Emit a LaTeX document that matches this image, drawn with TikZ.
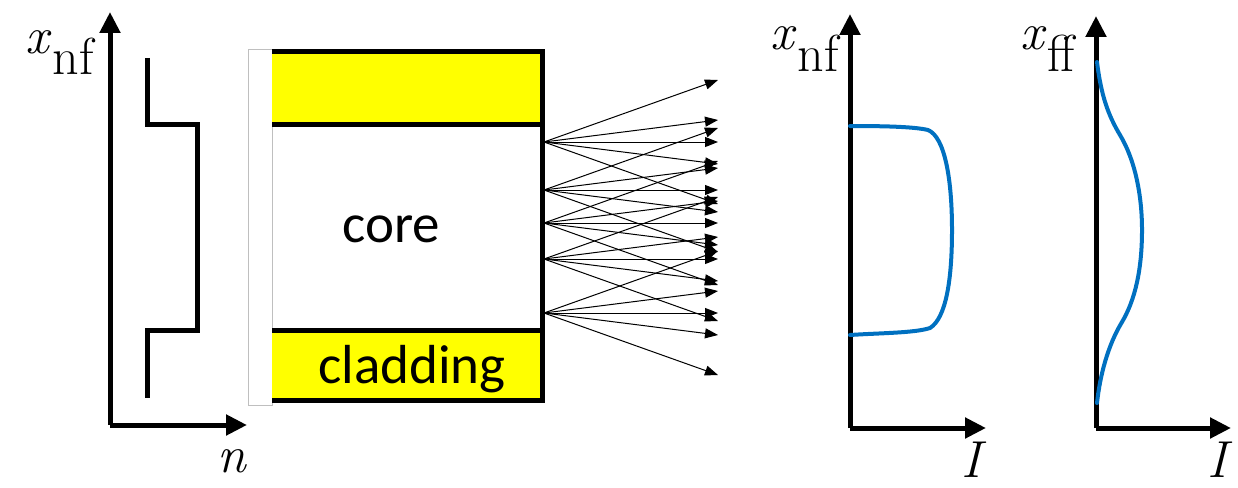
\documentclass[tikz,border=0pt]{standalone}
\usepackage{fontspec}
\newfontfamily\calib{Carlito}
\usetikzlibrary{arrows.meta}
\definecolor{cladyellow}{RGB}{255,255,0}
\definecolor{curveblue}{RGB}{0,112,192}
\definecolor{lightgraybd}{RGB}{191,191,191}
\newcommand{\axlbl}[2]{\textit{#1}\kern1pt\raisebox{-21pt}{#2}}
\begin{document}
\begin{tikzpicture}[x=1pt,y=-1pt,
  axis/.style={line width=5pt,-{Triangle[length=21pt,width=20pt]}},
  ray/.style={line width=1pt,-{Triangle[length=13pt,width=10pt]}},
  border/.style={line width=5pt},
  profile/.style={line width=5pt},
  bluecurve/.style={line width=4pt,color=curveblue,line cap=round},
  mathlbl/.style={inner sep=0pt,font=\fontsize{52}{52}\selectfont},
  txtlbl/.style={inner sep=0pt,font=\calib\fontsize{55}{55}\selectfont}]
\useasboundingbox (0,0) rectangle (1238,487);
% ---- left axes (refractive index)
\coordinate (o1) at (110,425);
\coordinate (t1y) at (110,12);
\coordinate (t1x) at (247,425);
\draw[axis] (o1) -- (t1y);
\draw[axis] (o1) -- (t1x);
\node[mathlbl,anchor=base east] (lx1) at (94,53) {\axlbl{x}{nf}};
\node[mathlbl,anchor=base] (ln) at (232,472) {\textit{n}};
% step profile
\draw[profile] (147,58) -- (147,124) -- (197,124) -- (197,330) -- (147,330) -- (147,398);
% ---- fibre
\draw[lightgraybd,line width=1pt,fill=white] (248,50) rectangle (272,405);
\fill[cladyellow] (272,52) rectangle (542,124);
\fill[cladyellow] (272,330) rectangle (542,400);
\draw[border] (272,52) -- (542,52);
\draw[border] (272,124) -- (542,124);
\draw[border] (272,330) -- (542,330);
\draw[border] (272,400) -- (542,400);
\draw[border] (542,49.5) -- (542,402.5);
\node[txtlbl] (core) at (391,229) {core};
\node[txtlbl,anchor=base] (clad) at (412,383) {cladding};
% ---- rays
\foreach \i/\y in {1/142,2/190,3/223,4/259,5/313}{
  \coordinate (s\i) at (544,\y);
  \foreach \j/\d in {1/-62,2/-22,3/0,4/22,5/62}{
    \coordinate (e\i\j) at (718,\y+\d);
    \draw[ray] (s\i) -- (e\i\j);
  }
}
% ---- near-field intensity
\coordinate (o2) at (850,428);
\coordinate (t2y) at (850,14);
\coordinate (t2x) at (986,428);
\draw[axis] (o2) -- (t2y);
\draw[axis] (o2) -- (t2x);
\node[mathlbl,anchor=base east] (lx2) at (839,50) {\axlbl{x}{nf}};
\node[mathlbl,anchor=base] (lI2) at (974,477) {\textit{I}};
\draw[bluecurve] (850,126) .. controls (890,126) and (915,127) .. (928,130)
  .. controls (945,137) and (952,180) .. (952,230)
  .. controls (952,280) and (946,318) .. (930,328)
  .. controls (915,333) and (880,333) .. (850,335);
% ---- far-field intensity
\coordinate (o3) at (1096,428);
\coordinate (t3y) at (1096,16);
\coordinate (t3x) at (1231,428);
\draw[axis] (o3) -- (t3y);
\draw[axis] (o3) -- (t3x);
\node[mathlbl,anchor=base east] (lx3) at (1075,50) {\axlbl{x}{ff}};
\node[mathlbl,anchor=base] (lI3) at (1220,477) {\textit{I}};
\draw[bluecurve] (1097,62) .. controls (1101,95) and (1108,115) .. (1120,135)
  .. controls (1135,160) and (1142,195) .. (1142,230)
  .. controls (1142,270) and (1135,300) .. (1122,322)
  .. controls (1108,345) and (1100,375) .. (1097,403);
\end{tikzpicture}
\end{document}
